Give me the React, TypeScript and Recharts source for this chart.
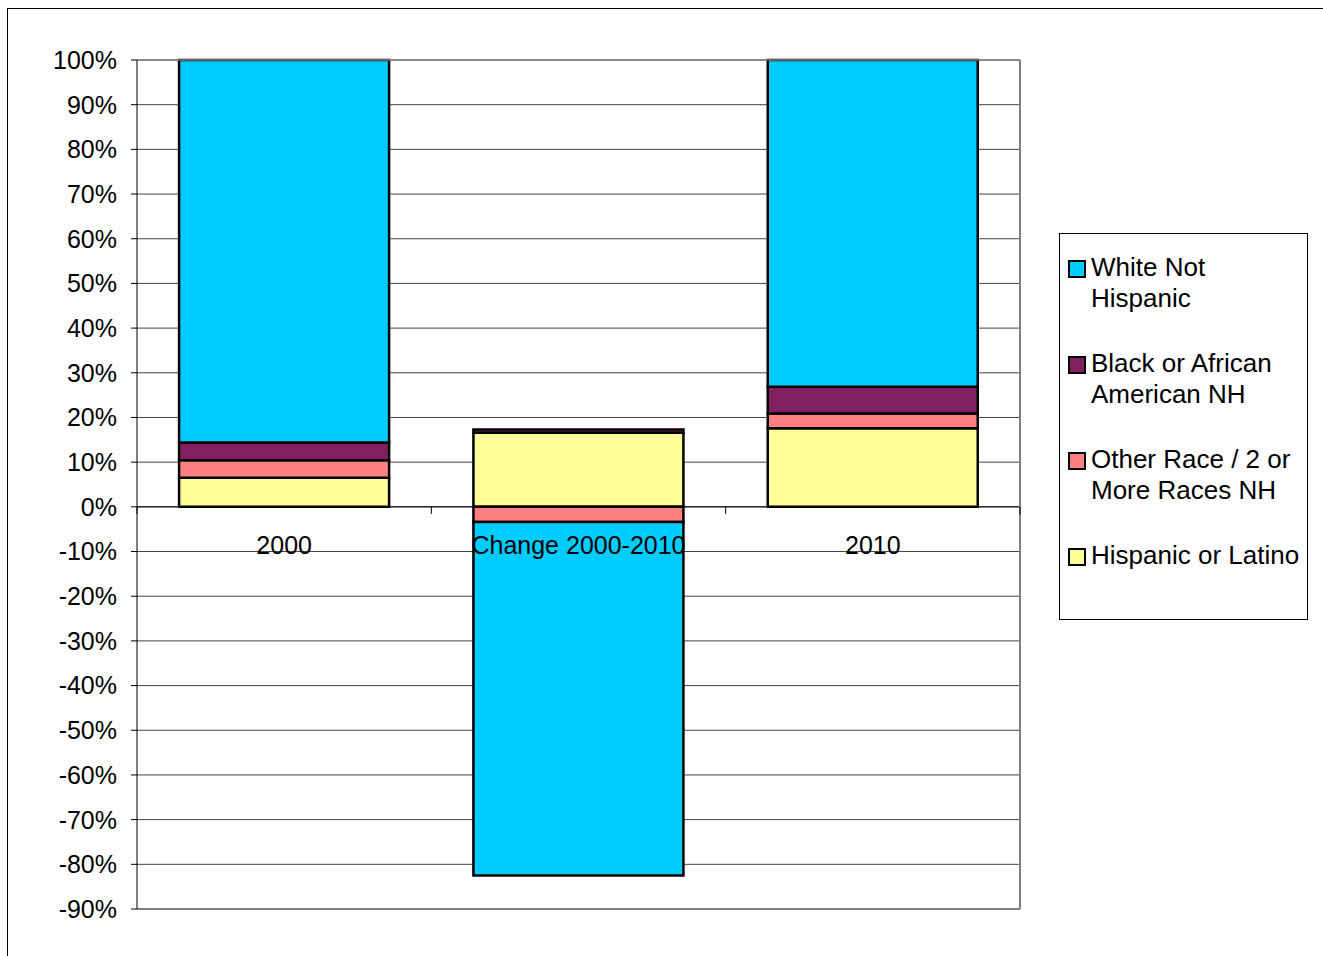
import React from 'react';
import {
  BarChart,
  Bar,
  XAxis,
  YAxis,
  CartesianGrid,
  ReferenceLine,
} from 'recharts';

// categories and series values (percent)
const categories = ['2000', 'Change 2000-2010', '2010'];
const hispanic = [6.5, 16.6, 17.6];
const otherRace = [3.9, -3.4, 3.3];
const black = [4.0, 0.7, 6.0];
const white = [85.6, -79.1, 73.1];
const yTicks = [100, 90, 80, 70, 60, 50, 40, 30, 20, 10, 0, -10, -20, -30, -40, -50, -60, -70, -80, -90];

const series = [
  { key: 'hispanic', name: 'Hispanic or Latino', color: '#FFFF99', values: hispanic },
  { key: 'other', name: 'Other Race / 2 or More Races NH', color: '#FF8080', values: otherRace },
  { key: 'black', name: 'Black or African American NH', color: '#802060', values: black },
  { key: 'white', name: 'White Not Hispanic', color: '#00CCFF', values: white },
];

// legend shows the stack top-down
const legendItems = [
  { lines: ['White Not', 'Hispanic'], color: '#00CCFF' },
  { lines: ['Black or African', 'American NH'], color: '#802060' },
  { lines: ['Other Race / 2 or', 'More Races NH'], color: '#FF8080' },
  { lines: ['Hispanic or Latino'], color: '#FFFF99' },
];

const data = categories.map((name, i) => {
  const row: any = { name };
  series.forEach((s) => (row[s.key] = s.values[i]));
  return row;
});

const W = 1323;
const H = 956;
const TOP = 60;
const PLOT_LEFT = 137;
const PLOT_RIGHT = 1020;
const PLOT_BOTTOM = 909;
const PLOT_H = PLOT_BOTTOM - TOP;
const BAND = (PLOT_RIGHT - PLOT_LEFT) / categories.length;
const ZERO_Y = TOP + (PLOT_H * 100) / 190;
const FONT = '"Liberation Sans", Arial, sans-serif';

const CategoryTick = (props: any) => {
  const { x, payload, index } = props;
  return (
    <g>
      <line x1={x - BAND / 2} x2={x - BAND / 2} y1={ZERO_Y} y2={ZERO_Y + 7} stroke="#000" />
      {index === categories.length - 1 && (
        <line x1={x + BAND / 2} x2={x + BAND / 2} y1={ZERO_Y} y2={ZERO_Y + 8} stroke="#000" />
      )}
      <text x={x} y={ZERO_Y + 47} textAnchor="middle" fontSize={25} fill="#000" fontFamily={FONT}>
        {payload.value}
      </text>
    </g>
  );
};

const LegendBox = () => (
  <div
    style={{
      position: 'absolute',
      left: 1059,
      top: 233,
      width: 249,
      height: 387,
      border: '1px solid #000',
      background: '#fff',
      fontFamily: FONT,
      fontSize: 26,
      lineHeight: '31px',
      color: '#000',
      paddingTop: 18,
      boxSizing: 'border-box',
    }}
  >
    {legendItems.map((item, i) => (
      <div key={i} style={{ display: 'flex', alignItems: 'flex-start', marginBottom: i < legendItems.length - 1 ? 34 : 0, height: item.lines.length * 31 }}>
        <div
          style={{
            width: 14,
            height: 14,
            background: item.color,
            border: '2px solid #000',
            marginLeft: 8,
            marginTop: 8,
            marginRight: 5,
            flexShrink: 0,
          }}
        />
        <div style={{ whiteSpace: 'nowrap' }}>
          {item.lines.map((l, j) => (
            <div key={j}>{l}</div>
          ))}
        </div>
      </div>
    ))}
  </div>
);

export default function App() {
  return (
    <div style={{ position: 'absolute', left: 0, top: 0, width: W, height: H, background: '#fff', overflow: 'hidden' }}>
      <div
        style={{
          position: 'absolute',
          left: 7,
          top: 8,
          width: W,
          height: H,
          borderLeft: '1px solid #000',
          borderTop: '1px solid #000',
        }}
      />
      <div style={{ position: 'absolute', left: 0, top: 0 }}>
        <BarChart
          width={W}
          height={H}
          data={data}
          stackOffset="sign"
          barCategoryGap="14.3%"
          margin={{ top: TOP, right: W - PLOT_RIGHT - 1, bottom: 0, left: 0 }}
        >
          <CartesianGrid vertical={false} stroke="#444" strokeWidth={1} />
          <XAxis
            dataKey="name"
            height={H - PLOT_BOTTOM}
            axisLine={false}
            tickLine={false}
            tick={<CategoryTick />}
            interval={0}
          />
          <YAxis
            width={PLOT_LEFT}
            domain={[-90, 100]}
            ticks={yTicks}
            interval={0}
            tickFormatter={(v) => `${v}%`}
            axisLine={{ stroke: '#000' }}
            tickLine={{ stroke: '#000' }}
            tickSize={6}
            tickMargin={14}
            tick={{ fill: '#000', fontSize: 25, fontFamily: FONT }}
          />
          <YAxis
            yAxisId="right"
            orientation="right"
            width={1}
            domain={[-90, 100]}
            ticks={yTicks}
            tick={false}
            tickLine={false}
            axisLine={{ stroke: '#808080', strokeWidth: 2 }}
          />
          <ReferenceLine y={-90} stroke="#808080" strokeWidth={2} />
          <ReferenceLine y={100} stroke="#808080" strokeWidth={1.5} />
          {series.map((s) => (
            <Bar
              key={s.key}
              dataKey={s.key}
              name={s.name}
              stackId="a"
              fill={s.color}
              stroke="#000"
              strokeWidth={2.5}
              isAnimationActive={false}
            />
          ))}
          <ReferenceLine y={0} stroke="#000" strokeWidth={1} />
        </BarChart>
      </div>
      <LegendBox />
    </div>
  );
}
